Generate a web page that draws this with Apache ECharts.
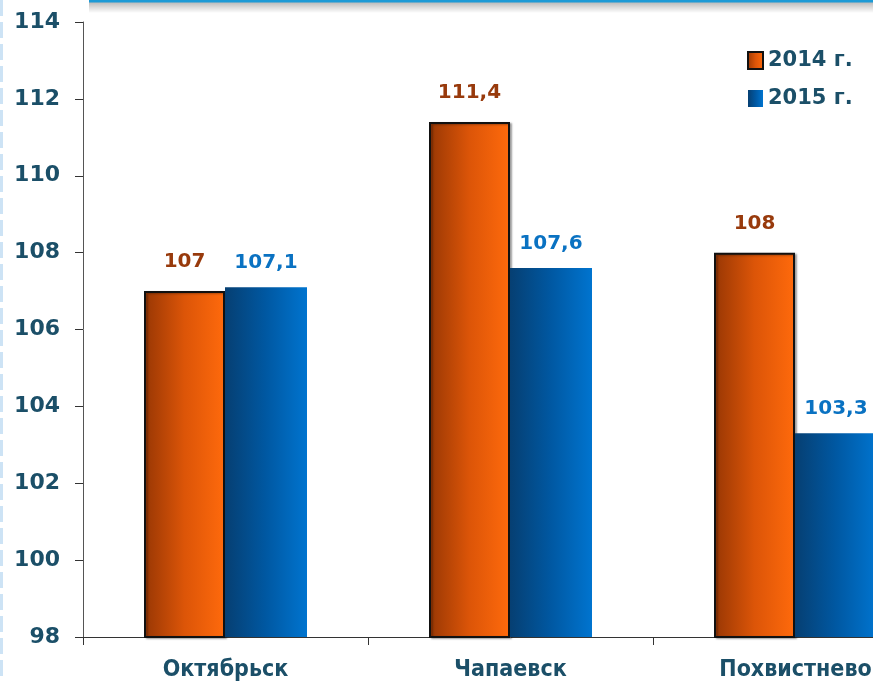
<!DOCTYPE html>
<html>
<head>
<meta charset="utf-8">
<script src="https://cdn.jsdelivr.net/npm/echarts@6/dist/echarts.min.js"></script>
<style>
html,body{margin:0;padding:0;background:#fff;overflow:hidden;width:873px;height:682px;}
#chart{width:960px;height:682px;}
</style>
</head>
<body>
<div id="chart"></div>
<script>
var categories = ['Октябрьск', 'Чапаевск', 'Похвистнево'];
var seriesNames = ['2014 г.', '2015 г.'];
var values2014 = [107, 111.4, 108];
var values2015 = [107.1, 107.6, 103.3];
var yMin = 98, yMax = 114, yInterval = 2;

var textColor = '#1b4f68';
var fontFam = '"DejaVu Sans", sans-serif';
function fmt(p) { return String(p.value).replace('.', ','); }

var chart = echarts.init(document.getElementById('chart'), null, {renderer: 'canvas'});
chart.setOption({
  backgroundColor: '#ffffff',
  animation: false,
  grid: {left: 83, top: 22, width: 855, height: 615, containLabel: false},
  legend: {
    left: 747, top: 50, orient: 'vertical', icon: 'rect', padding: 0,
    itemWidth: 15, itemHeight: 17, itemGap: 17,
    textStyle: {fontFamily: fontFam, fontWeight: 'bold', fontSize: 21, color: textColor},
    data: seriesNames
  },
  xAxis: {
    type: 'category',
    data: categories,
    axisLine: {lineStyle: {color: '#333', width: 1}},
    axisTick: {show: true, length: 8, lineStyle: {color: '#333'}},
    axisLabel: {margin: 22, fontFamily: '"DejaVu Sans Condensed", "DejaVu Sans", sans-serif', fontWeight: 'bold', fontSize: 23, color: textColor}
  },
  yAxis: {
    type: 'value',
    min: yMin, max: yMax, interval: yInterval,
    axisLine: {show: true, lineStyle: {color: '#555', width: 1}},
    axisTick: {show: true, length: 8, lineStyle: {color: '#333'}},
    splitLine: {show: false},
    axisLabel: {margin: 23, fontFamily: fontFam, fontWeight: 'bold', fontSize: 22, color: textColor}
  },
  series: [
    {
      name: seriesNames[0], type: 'bar', data: values2014,
      barWidth: 81, barGap: '0%',
      itemStyle: {
        color: new echarts.graphic.LinearGradient(0, 0, 1, 0, [
          {offset: 0, color: '#983704'}, {offset: 0.5, color: '#dc5508'}, {offset: 1, color: '#ff6a0c'}
        ]),
        borderColor: '#111', borderWidth: 2,
        shadowColor: 'rgba(0,0,0,0.3)', shadowBlur: 2, shadowOffsetX: 2, shadowOffsetY: 1
      },
      label: {show: true, position: 'top', distance: 19, formatter: fmt,
        fontFamily: fontFam, fontWeight: 'bold', fontSize: 20, color: '#983a0c'}
    },
    {
      name: seriesNames[1], type: 'bar', data: values2015,
      barWidth: 82, barGap: '0%',
      itemStyle: {
        color: new echarts.graphic.LinearGradient(0, 0, 1, 0, [
          {offset: 0, color: '#063f72'}, {offset: 0.5, color: '#0058a2'}, {offset: 1, color: '#0074cf'}
        ])
      },
      label: {show: true, position: 'top', distance: 14, formatter: fmt,
        fontFamily: fontFam, fontWeight: 'bold', fontSize: 20, color: '#0a72c2'}
    }
  ],
  graphic: [
    {type: 'rect', left: 89, top: 2, shape: {width: 871, height: 11}, silent: true,
      style: {fill: new echarts.graphic.LinearGradient(0, 0, 0, 1, [
        {offset: 0, color: 'rgba(0,0,0,0.28)'}, {offset: 1, color: 'rgba(0,0,0,0)'}])}},
    {type: 'rect', left: 89, top: 0, shape: {width: 871, height: 2.5}, silent: true,
      style: {fill: '#1c9ad6'}},
    {type: 'line', shape: {x1: 1.5, y1: 0, x2: 1.5, y2: 682}, silent: true,
      style: {stroke: '#cde3f5', lineWidth: 3, lineDash: [16, 6]}}
  ]
});
</script>
</body>
</html>
